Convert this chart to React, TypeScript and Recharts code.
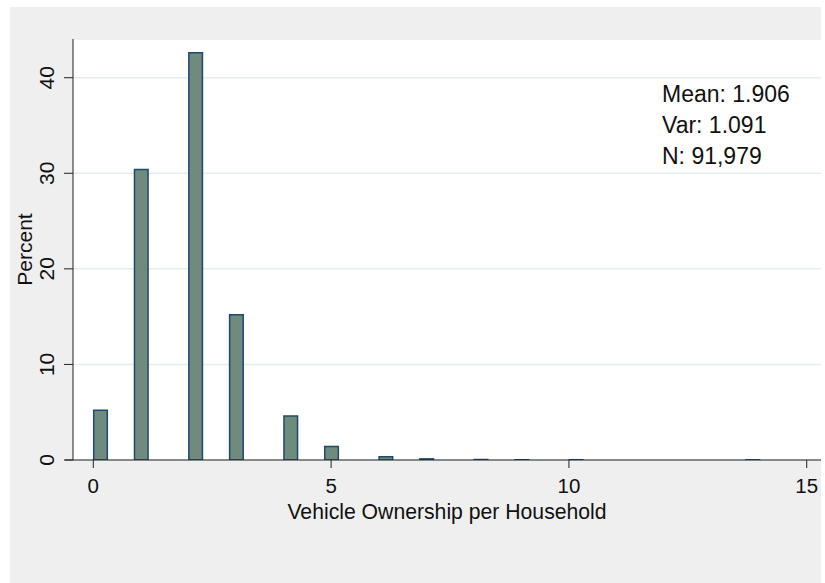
import React from "react";
import { BarChart, Bar, XAxis, YAxis, CartesianGrid, ReferenceLine } from "recharts";

// vehicles owned per household -> percent of households
const vehicles = [0, 1, 2, 3, 4, 5, 6, 7, 8, 9, 10, 14];
const percent = [5.2, 30.4, 42.6, 15.2, 4.6, 1.4, 0.35, 0.12, 0.05, 0.03, 0.03, 0.02];
const xTicks = [0, 5, 10, 15];
const yTicks = [0, 10, 20, 30, 40];
const stats = ["Mean: 1.906", "Var: 1.091", "N: 91,979"];

// Stata-style binning: 49 bins over 0..14
const MAX_VALUE = 14;
const BIN_COUNT = 49;
const BIN_WIDTH = MAX_VALUE / BIN_COUNT;

const X_DOMAIN: [number, number] = [-0.427, 15.3];
const Y_DOMAIN: [number, number] = [0, 44.05];

const W = 811;
const H = 576;
const MARGIN = { top: 32, right: 0, left: 0, bottom: 63 };
const Y_AXIS_W = 63;
const X_AXIS_H = 60;
const PLOT_W = W - Y_AXIS_W - MARGIN.left - MARGIN.right;

const FONT = "'Liberation Sans', Arial, sans-serif";
const FILL = "#6e8b7d";
const STROKE = "#1d4a6e";
const AXIS = "#222";

const data = vehicles.map((v, i) => {
  const bin = Math.min(Math.floor(v / BIN_WIDTH + 1e-9), BIN_COUNT - 1);
  return { mid: (bin + 0.5) * BIN_WIDTH, pct: percent[i] };
});

const barSize = (BIN_WIDTH * PLOT_W) / (X_DOMAIN[1] - X_DOMAIN[0]);

function YTick({ x, y, payload }: any) {
  return (
    <text
      transform={`translate(${x - 8},${y}) rotate(-90)`}
      textAnchor="middle"
      fontSize={21}
      fontFamily={FONT}
      fill="#111"
    >
      {payload.value}
    </text>
  );
}

function XTick({ x, y, payload }: any) {
  return (
    <text x={x} y={y + 23} textAnchor="middle" fontSize={20.5} fontFamily={FONT} fill="#111">
      {payload.value}
    </text>
  );
}

export default function App() {
  return (
    <div style={{ position: "absolute", left: 0, top: 0, width: 825, height: 583, background: "#fff" }}>
      <div style={{ position: "absolute", left: 10, top: 7, width: W, height: H, background: "#efefef" }}>
        <BarChart width={W} height={H} data={data} margin={MARGIN}>
          <CartesianGrid fill="#ffffff" vertical={false} stroke="#e4edf0" strokeWidth={1.5} />
          <XAxis
            dataKey="mid"
            type="number"
            domain={X_DOMAIN}
            ticks={xTicks}
            allowDataOverflow
            height={X_AXIS_H}
            tickSize={8}
            stroke={AXIS}
            tick={<XTick />}
            label={({ viewBox }: any) => (
              <text
                x={viewBox.x + viewBox.width / 2}
                y={viewBox.y + 59}
                textAnchor="middle"
                fontSize={21.2}
                fontFamily={FONT}
                fill="#111"
              >
                Vehicle Ownership per Household
              </text>
            )}
          />
          <YAxis
            type="number"
            domain={Y_DOMAIN}
            ticks={yTicks}
            allowDataOverflow
            width={Y_AXIS_W}
            tickSize={9}
            stroke={AXIS}
            tick={<YTick />}
            label={({ viewBox }: any) => (
              <text
                transform={`translate(${viewBox.x + 22},${viewBox.y + viewBox.height / 2}) rotate(-90)`}
                textAnchor="middle"
                fontSize={21}
                fontFamily={FONT}
                fill="#111"
              >
                Percent
              </text>
            )}
          />
          <ReferenceLine
            segment={[
              { x: X_DOMAIN[0] - 0.17, y: 0 },
              { x: X_DOMAIN[0], y: 0 },
            ]}
            stroke={AXIS}
            ifOverflow="visible"
          />
          <Bar
            dataKey="pct"
            barSize={barSize}
            fill={FILL}
            stroke={STROKE}
            strokeWidth={1.5}
            isAnimationActive={false}
          />
        </BarChart>
      </div>
      <svg
        width={825}
        height={583}
        style={{ position: "absolute", left: 0, top: 0, pointerEvents: "none" }}
      >
        {stats.map((s, i) => (
          <text key={s} x={662} y={101.5 + i * 31} fontSize={23} fontFamily={FONT} fill="#111">
            {s}
          </text>
        ))}
      </svg>
    </div>
  );
}
